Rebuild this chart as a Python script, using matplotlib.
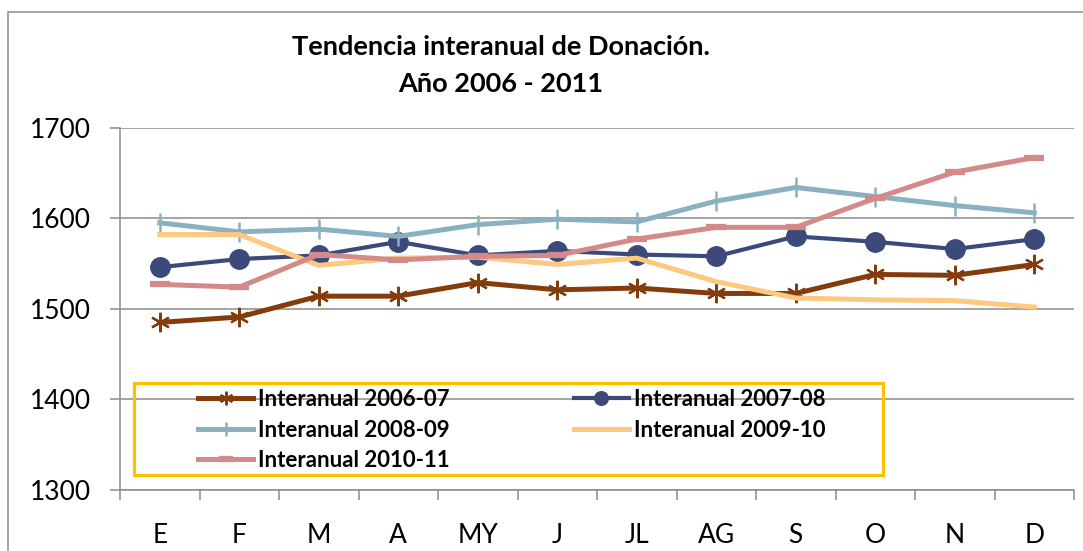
import numpy as np
import matplotlib
matplotlib.use('Agg')
import matplotlib.pyplot as plt
from matplotlib.patches import Rectangle

# fuente
plt.rcParams['font.family'] = ['Lato', 'DejaVu Sans']

# datos
meses = ['E', 'F', 'M', 'A', 'MY', 'J', 'JL', 'AG', 'S', 'O', 'N', 'D']
inter0607 = [1485, 1491, 1514, 1514, 1529, 1521, 1523, 1517, 1517, 1538, 1537, 1549]
inter0708 = [1546, 1555, 1559, 1574, 1559, 1564, 1560, 1558, 1580, 1574, 1566, 1577]
inter0809 = [1595, 1585, 1588, 1580, 1593, 1599, 1596, 1619, 1634, 1624, 1614, 1606]
inter0910 = [1582, 1582, 1548, 1556, 1557, 1549, 1556, 1530, 1512, 1510, 1509, 1502]
inter1011 = [1527, 1524, 1560, 1554, 1558, 1559, 1577, 1590, 1590, 1622, 1651, 1667]
etiquetas = ['Interanual 2006-07', 'Interanual 2007-08', 'Interanual 2008-09',
             'Interanual 2009-10', 'Interanual 2010-11']

gris = '#8C8C8C'
W, H = 1083, 551

fig = plt.figure(figsize=(W / 100, H / 100), dpi=100)
ax = fig.add_axes([120 / W, 1 - 490 / H, (1074 - 120) / W, (490 - 127.7) / H])

x = np.arange(len(meses))

# series
l1, = ax.plot(x, inter0607, color='#843C0C', lw=3.6, marker=(6, 2, 0), ms=14, mew=1.6,
              label=etiquetas[0])
l2, = ax.plot(x, inter0708, color='#3B4A7A', lw=3.0, marker='o', ms=14,
              label=etiquetas[1])
l3, = ax.plot(x, inter0809, color='#8BB1C1', lw=3.6, marker='|', ms=15, mew=1.8,
              label=etiquetas[2])
l4, = ax.plot(x, inter0910, color='#FDC880', lw=3.6, label=etiquetas[3])
l5, = ax.plot(x, inter1011, color='#D48A89', lw=3.6, marker='_', ms=14, mew=4.5,
              label=etiquetas[4])

# ejes
ax.set_xlim(-0.5, 11.5)
ax.set_ylim(1300, 1700)
ax.set_yticks(np.arange(1300, 1701, 100))
ax.yaxis.grid(True, color=gris, lw=1.1)
ax.set_axisbelow(True)
for s in ['top', 'right']:
    ax.spines[s].set_visible(False)
ax.spines['left'].set_color(gris)
ax.spines['bottom'].set_color(gris)
ax.spines['left'].set_linewidth(1.1)
ax.spines['bottom'].set_linewidth(1.1)

ax.set_xticks(x)
ax.set_xticklabels(meses)
ax.set_xticks(np.arange(-0.5, 12, 1), minor=True)
ax.tick_params(axis='x', which='major', length=0, pad=24, labelsize=19)
ax.tick_params(axis='x', which='minor', length=7, width=1.1, color=gris)
ax.tick_params(axis='y', length=7, width=1.1, color=gris, pad=14, labelsize=19)

# titulo
fig.text(501 / W, 1 - 47 / H, 'Tendencia interanual de Donación.', ha='center',
         va='center', fontsize=19.5, fontweight='bold')
fig.text(501 / W, 1 - 84 / H, 'Año 2006 - 2011', ha='center', va='center',
         fontsize=19.5, fontweight='bold')

# leyenda (filas como en el original)
fs = 16
px = fs * 100 / 72
ax.legend([l1, l3, l5, l2, l4], [etiquetas[0], etiquetas[2], etiquetas[4], etiquetas[1], etiquetas[3]],
          loc='upper left', bbox_to_anchor=(198 / W, 1 - 389 / H),
          bbox_transform=fig.transFigure, ncol=2, frameon=False,
          prop={'weight': 'bold', 'size': fs}, borderpad=0, borderaxespad=0,
          handlelength=55 / px, handletextpad=5 / px, columnspacing=124 / px,
          labelspacing=0.43, markerscale=0.7)
fig.patches.append(Rectangle((134 / W, 1 - 475 / H), (883 - 134) / W, (475 - 383) / H,
                             transform=fig.transFigure, fill=False,
                             edgecolor='#FFC000', lw=2.3))

# marco exterior
fig.patches.append(Rectangle((8 / W, -0.1), 1.2, 1.1 - 12 / H,
                             transform=fig.transFigure, fill=False,
                             edgecolor=gris, lw=1.1, clip_on=False))

plt.savefig('out.png', dpi=100)
plt.close()
